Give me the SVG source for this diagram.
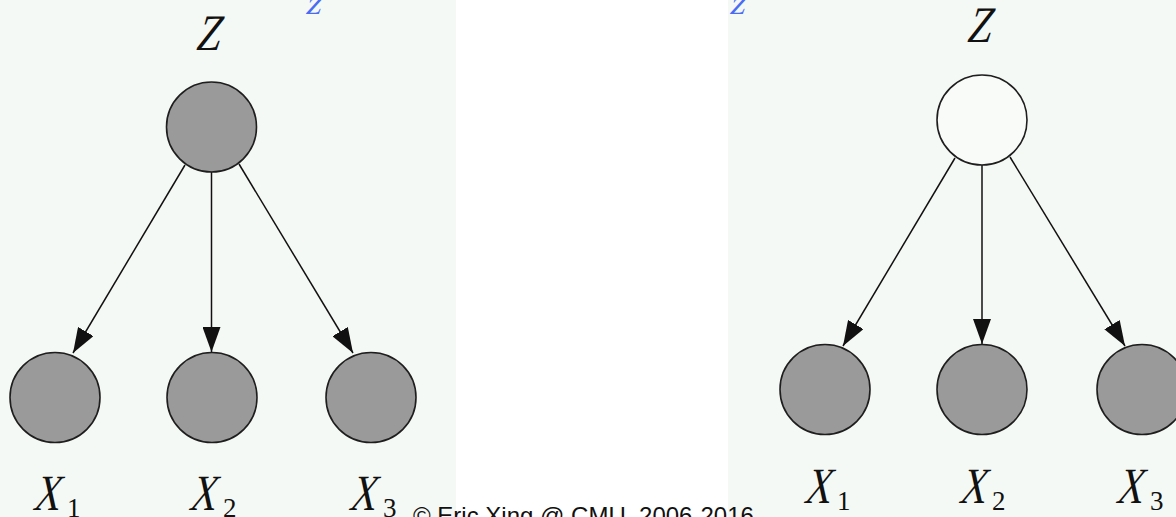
<svg xmlns="http://www.w3.org/2000/svg" width="1176" height="517" viewBox="0 0 1176 517">
<defs>
<style>
.panel{fill:#f5f9f5}
.obs{fill:#9a9a9a;stroke:#1e1e1e;stroke-width:1.6}
.hid{fill:#f9fbf9;stroke:#1e1e1e;stroke-width:1.6}
.edge{stroke:#111;stroke-width:1.5;fill:none;marker-end:url(#ah)}
.var{font-family:"Liberation Serif","Times New Roman",serif;font-style:normal;font-size:51px;fill:#111}
.sub{font-family:"Liberation Serif","Times New Roman",serif;font-size:27px;fill:#111}
.bz{font-family:"Liberation Serif","Times New Roman",serif;font-style:normal;font-size:34px;fill:#4a6cf5}
.copy{font-family:"Liberation Sans",Arial,sans-serif;font-size:24px;fill:#111}
</style>
<marker id="ah" markerUnits="userSpaceOnUse" markerWidth="25" markerHeight="18" refX="25" refY="9" orient="auto">
<path d="M0,0 L25,9 L0,18 z" fill="#111"/>
</marker>
</defs>
<rect width="1176" height="517" fill="#ffffff"/>
<rect class="panel" x="0" y="0" width="456" height="517"/>
<rect class="panel" x="728" y="0" width="448" height="517"/>
<text class="bz" transform="translate(305,14) skewX(-15)">z</text>
<text class="bz" transform="translate(729,14) skewX(-15)">z</text>
<g id="connectors">
<line class="edge" x1="185" y1="165" x2="73" y2="353"/>
<line class="edge" x1="211.5" y1="172" x2="211.5" y2="352"/>
<line class="edge" x1="239" y1="164" x2="353" y2="353"/>
<line class="edge" x1="955" y1="158" x2="843" y2="346"/>
<line class="edge" x1="982" y1="165" x2="982" y2="344"/>
<line class="edge" x1="1010" y1="157" x2="1125" y2="346"/>
</g>
<g id="left-Z">
<circle class="obs" cx="211.5" cy="127" r="45"/>
<text class="var" transform="translate(207,50) skewX(-15) scale(0.8,1)" text-anchor="middle">Z</text>
</g>
<g id="left-X1">
<circle class="obs" cx="55" cy="397.5" r="45"/>
<text class="var" transform="translate(32,510) skewX(-15) scale(0.72,1)">X</text>
<text class="sub" x="67" y="517">1</text>
</g>
<g id="left-X2">
<circle class="obs" cx="212" cy="397.5" r="45"/>
<text class="var" transform="translate(188,510) skewX(-15) scale(0.72,1)">X</text>
<text class="sub" x="223" y="517">2</text>
</g>
<g id="left-X3">
<circle class="obs" cx="371" cy="397.5" r="45"/>
<text class="var" transform="translate(348,510) skewX(-15) scale(0.72,1)">X</text>
<text class="sub" x="383" y="517">3</text>
</g>
<g id="right-Z">
<circle class="hid" cx="982" cy="120" r="45"/>
<text class="var" transform="translate(978,42) skewX(-15) scale(0.8,1)" text-anchor="middle">Z</text>
</g>
<g id="right-X1">
<circle class="obs" cx="825" cy="389.5" r="45"/>
<text class="var" transform="translate(803,503) skewX(-15) scale(0.72,1)">X</text>
<text class="sub" x="837" y="510">1</text>
</g>
<g id="right-X2">
<circle class="obs" cx="982" cy="389.5" r="45"/>
<text class="var" transform="translate(958,503) skewX(-15) scale(0.72,1)">X</text>
<text class="sub" x="992" y="510">2</text>
</g>
<g id="right-X3">
<circle class="obs" cx="1142" cy="389.5" r="45"/>
<text class="var" transform="translate(1115,503) skewX(-15) scale(0.72,1)">X</text>
<text class="sub" x="1150" y="510">3</text>
</g>
<text class="copy" x="413" y="524">© Eric Xing @ CMU, 2006-2016</text>
</svg>
